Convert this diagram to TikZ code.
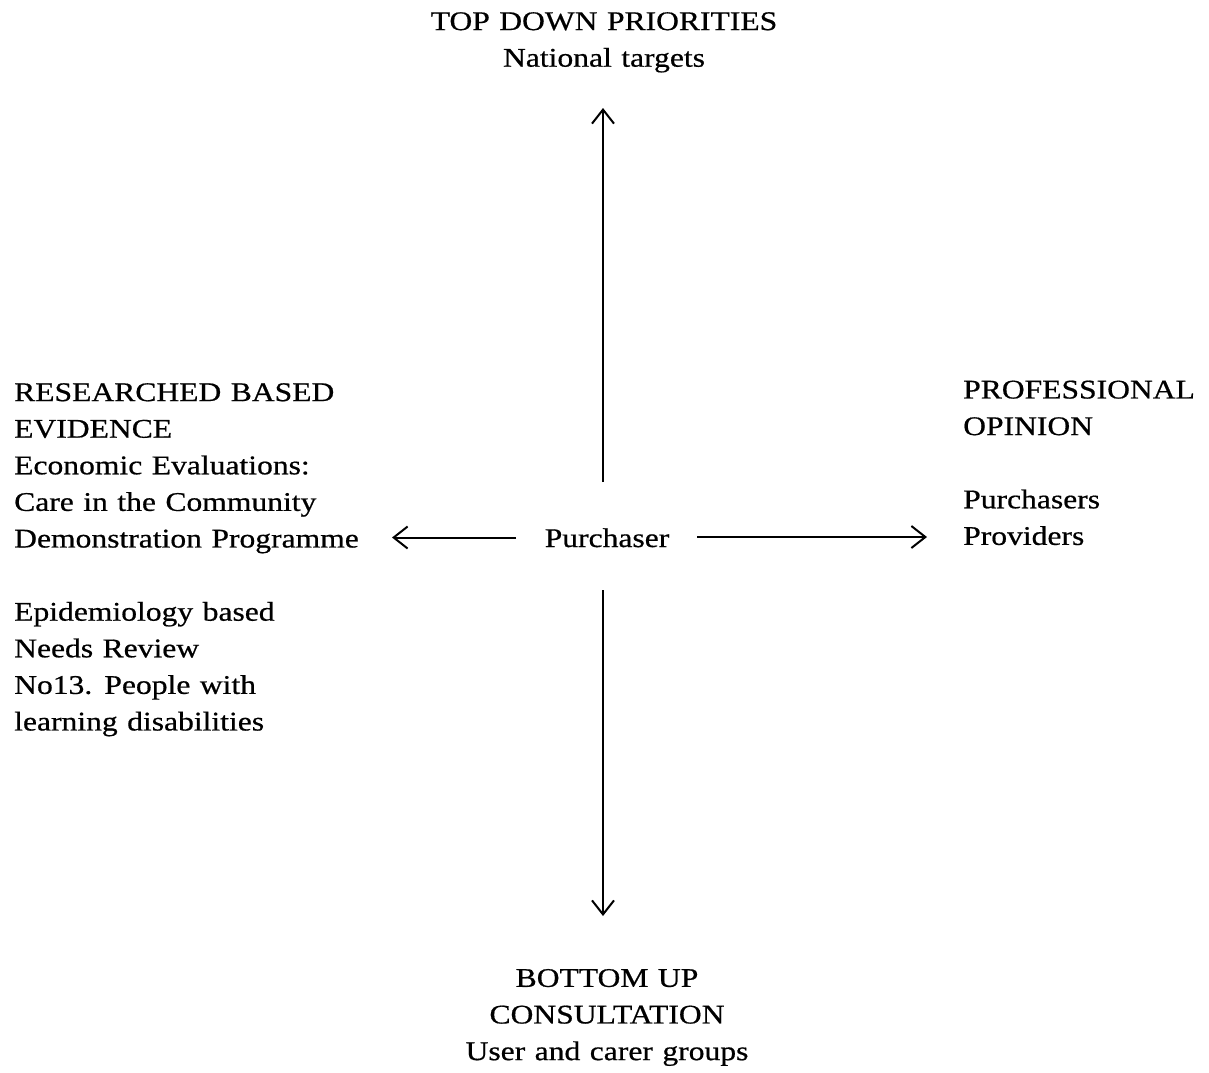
\documentclass[tikz,border=0pt]{standalone}
\usepackage{fontspec}
\setmainfont{Liberation Serif}[FakeStretch=1.17,FakeBold=0.6,WordSpace=1.2]
\usetikzlibrary{arrows.meta}
\begin{document}
\begin{tikzpicture}[x=1pt,y=-1pt,
  lbl/.style={inner sep=0pt,font=\fontsize{27}{36.6}\selectfont},
  conn/.style={line width=2pt,-{Straight Barb[length=14pt,width=22pt,line width=2pt]}}]
\useasboundingbox[fill=white] (0,0) rectangle (1209,1072);
% nodes
\node[lbl,align=center,anchor=north] (top) at (604,12) {TOP DOWN PRIORITIES\\National targets};
\node[lbl,align=left,anchor=north west] (left) at (14,383)
  {RESEARCHED BASED\\EVIDENCE\\Economic Evaluations:\\Care in the Community\\Demonstration Programme\\[36.6pt]Epidemiology based\\Needs Review\\No13. People with\\learning disabilities};
\node[lbl,align=left,anchor=north west] (right) at (963,380.4)
  {PROFESSIONAL\\OPINION\\[36.6pt]Purchasers\\Providers};
\node[lbl,anchor=base] (purch) at (607,547) {Purchaser};
\node[lbl,align=center,anchor=north] (bottom) at (607,968.8)
  {BOTTOM UP\\CONSULTATION\\User and carer groups};
% arrow ends
\coordinate (upS) at (603,482);
\coordinate (upT) at (603,108);
\coordinate (dnS) at (603,590);
\coordinate (dnT) at (603,916);
\coordinate (lfS) at (516,537.5);
\coordinate (lfT) at (392,537.5);
\coordinate (rtS) at (697,537);
\coordinate (rtT) at (927,537);
\draw[conn] (upS) -- (upT);
\draw[conn] (dnS) -- (dnT);
\draw[conn] (lfS) -- (lfT);
\draw[conn] (rtS) -- (rtT);
\end{tikzpicture}
\end{document}
